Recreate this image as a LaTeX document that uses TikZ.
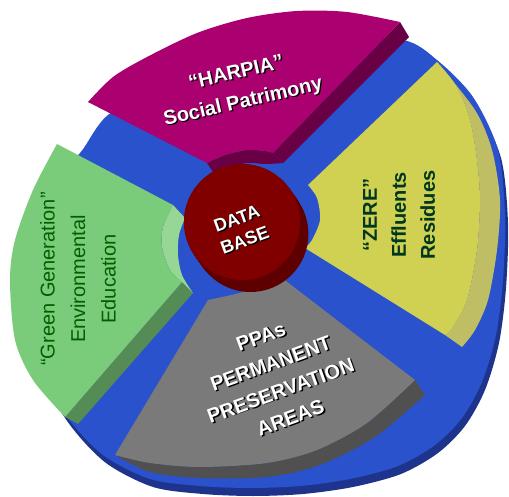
\documentclass[tikz,border=0pt]{standalone}
\usepackage{fontspec}
\setmainfont{Liberation Sans}
\definecolor{disktop}{RGB}{42,82,204}
\definecolor{diskside}{RGB}{30,52,140}
\definecolor{harpiatop}{RGB}{170,0,112}
\definecolor{harpiaside}{RGB}{105,0,70}
\definecolor{greentop}{RGB}{122,204,122}
\definecolor{greenside}{RGB}{85,140,85}
\definecolor{greenlight}{RGB}{150,215,150}
\definecolor{greentxt}{RGB}{0,95,0}
\definecolor{zeretop}{RGB}{208,208,82}
\definecolor{zereside}{RGB}{192,190,100}
\definecolor{zeretxt}{RGB}{0,55,30}
\definecolor{ppatop}{RGB}{122,122,122}
\definecolor{ppaside}{RGB}{80,80,80}
\definecolor{dbtop}{RGB}{128,0,0}
\definecolor{dbside}{RGB}{95,0,0}
\newcommand{\shd}[1]{\leavevmode\rlap{\kern1.2pt\raisebox{-1.2pt}{\color{black}#1}}#1}
\begin{document}
\begin{tikzpicture}[x=1pt,y=-1pt,line join=round,
  wlbl/.style={text=white,align=center,font=\bfseries\fontsize{20}{30}\selectfont},
  glbl/.style={text=greentxt,align=center,font=\fontsize{20}{30.5}\selectfont},
  ylbl/.style={text=zeretxt,align=center,font=\bfseries\fontsize{20}{29}\selectfont}]
\useasboundingbox (0,0) rectangle (509,497);
% blue disk
\fill[diskside,shift={(3,8)}] plot[smooth cycle] coordinates {(80,153) (108,115) (170,80) (250,52) (330,40) (403,40) (437,60) (473,97) (498,150) (505,215) (503,280) (496,335) (482,382) (462,418) (435,445) (398,466) (350,479) (300,486) (250,488) (200,486) (150,479) (103,455) (67,417) (40,370) (22,300) (28,220) (50,180)};
\fill[disktop] plot[smooth cycle] coordinates {(80,153) (108,115) (170,80) (250,52) (330,40) (403,40) (437,60) (473,97) (498,150) (505,215) (503,280) (496,335) (482,382) (462,418) (435,445) (398,466) (350,479) (300,486) (250,488) (200,486) (150,479) (103,455) (67,417) (40,370) (22,300) (28,220) (50,180)};
% magenta
\fill[harpiaside] (400,22)--(409,37)--(283,163)--(273,153)--cycle;
\fill[harpiaside] plot[smooth] coordinates {(207,163) (225,155) (247,150) (265,151) (273,153)} -- (283,163) -- plot[smooth] coordinates {(283,163) (265,164) (247,163) (228,168) (215,175)} -- cycle;
\fill[harpiatop] (88,102) -- plot[smooth] coordinates {(88,102) (113,77) (147,57) (197,33) (247,18) (297,11) (347,12) (400,22)} -- (273,153) -- plot[smooth] coordinates {(273,153) (265,151) (247,150) (225,155) (207,163)} -- cycle;
% green
\fill[greenside] (182,282)--(193,293)--(78,424)--(65,417)--cycle;
\fill[greenlight] (173,205) -- (185,218) -- plot[smooth] coordinates {(185,218) (179,235) (178,255) (182,275) (193,293)} -- (182,282) -- plot[smooth] coordinates {(182,282) (170,270) (162,247) (163,227) (173,205)} -- cycle;
\fill[greentop] (57,144) -- (173,205) -- plot[smooth] coordinates {(173,205) (163,227) (162,247) (170,270) (182,282)} -- (65,417) -- plot[smooth] coordinates {(65,417) (33,380) (15,340) (10,280) (15,240) (33,190) (57,144)} -- cycle;
% yellow
\fill[zereside] plot[smooth] coordinates {(437,62) (475,110) (492,150) (500,200) (497,250) (488,300) (475,330) (462,347)} -- (445,335) -- plot[smooth] coordinates {(445,335) (453,327) (467,300) (477,250) (480,200) (477,160) (470,120) (457,87) (437,62)} -- cycle;
\fill[zeretop] (308,185) -- (437,62) -- plot[smooth] coordinates {(437,62) (457,87) (470,120) (477,160) (480,200) (477,250) (467,300) (453,327) (445,335)} -- (305,248) -- plot[smooth] coordinates {(305,248) (312,240) (320,220) (317,198) (308,185)} -- cycle;
% gray
\fill[ppaside] (415,380) -- (425,395) -- plot[smooth] coordinates {(425,395) (375,437) (320,465) (267,477) (200,478) (150,472) (115,455)} -- plot[smooth] coordinates {(115,455) (150,463) (200,467) (267,463) (317,450) (367,423) (415,380)} -- cycle;
\fill[ppatop] (208,300) -- plot[smooth] coordinates {(208,300) (243,292) (282,278)} -- (415,380) -- plot[smooth] coordinates {(415,380) (367,423) (317,450) (267,463) (200,467) (150,463) (115,455)} -- cycle;
% data base
\foreach \t in {0,...,12}
  \fill[dbside] ({242+0.7*\t},{222+\t}) circle (58pt);
\fill[dbtop] (242,222) circle (58pt);
% labels
\node[wlbl,rotate=13] (harpia) at (240,89) {\shd{“HARPIA”}\\\shd{Social Patrimony}};
\node[glbl,rotate=90] (green) at (78,279) {“Green Generation”\\Environmental\\Education};
\node[ylbl,rotate=90] (zere) at (399,215) {“ZERE”\\Effluents\\Residues};
\node[wlbl,rotate=20,font=\bfseries\fontsize{20}{28.8}\selectfont] (ppa) at (276,378) {\shd{PPAs}\\\shd{PERMANENT}\\\shd{PRESERVATION}\\\shd{AREAS}};
\node[wlbl,rotate=20,font=\bfseries\fontsize{18}{23}\selectfont] (db) at (241,230) {\shd{DATA}\\\shd{BASE}};
\end{tikzpicture}
\end{document}
